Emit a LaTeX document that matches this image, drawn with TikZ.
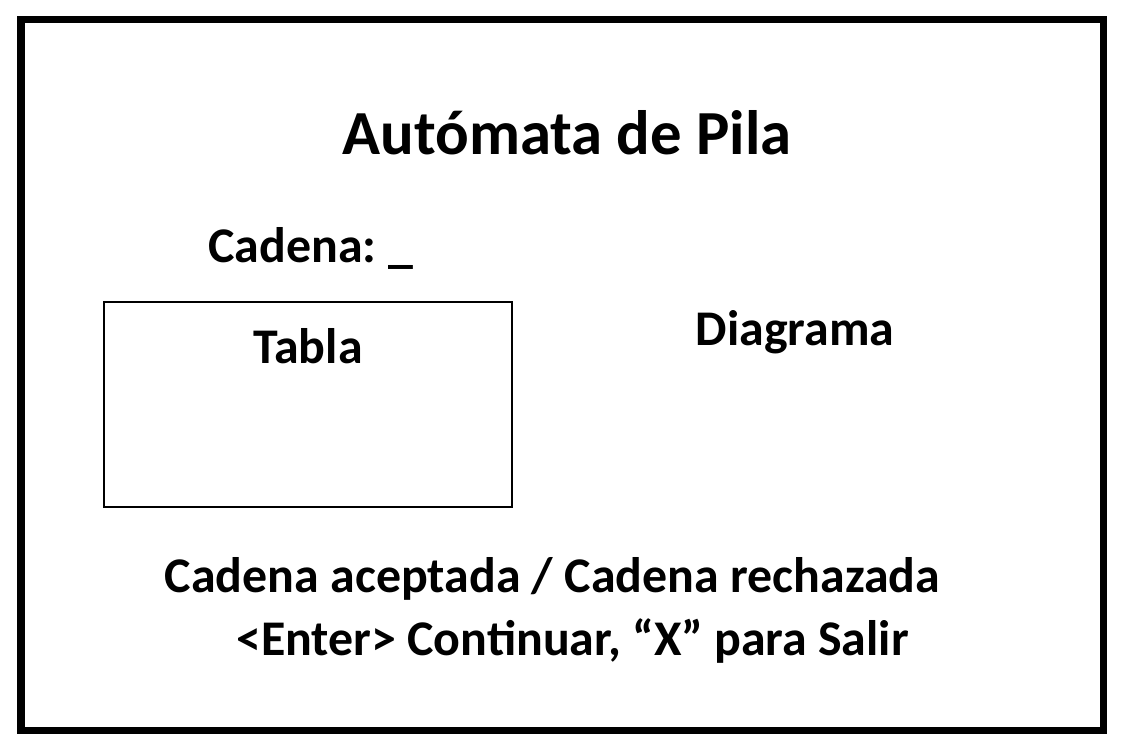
\documentclass[tikz,border=0pt]{standalone}
\usepackage{fontspec}
\setmainfont{Carlito}
\usepackage{tikz}
\usetikzlibrary{positioning}

\begin{document}
\begin{tikzpicture}[
    frame/.style   = {draw, line width=4.3pt},
    panel/.style   = {draw, line width=1.6pt},
    title/.style   = {font=\fontsize{35.7}{40}\selectfont\bfseries, anchor=base},
    label/.style   = {font=\fontsize{28.4}{32}\selectfont\bfseries, anchor=base},
  ]
    \useasboundingbox (0,0) rectangle (22.5,15);

    % --- screen frame ---
    \draw[frame] (0.42,0.39) rectangle (22.07,14.61);

    % --- heading and input ---
    \node[title] (tit) at (11.34,11.9) {Autómata de Pila};
    \node[label] (cad) at (6.22,9.76) {Cadena:\hspace{7pt}\_};

    % --- table panel and diagram ---
    \draw[panel] (2.08,4.86) rectangle (10.24,8.96);
    \node[label] (tab) at (6.16,7.74) {Tabla};
    \node[label] (dia) at (15.9,8.1) {Diagrama};

    % --- result and prompt ---
    \node[label] (res) at (11.05,3.16) {Cadena aceptada / Cadena rechazada};
    \node[label] (ent) at (11.45,1.9) {<Enter> Continuar, “X” para Salir};
  \end{tikzpicture}
\end{document}
